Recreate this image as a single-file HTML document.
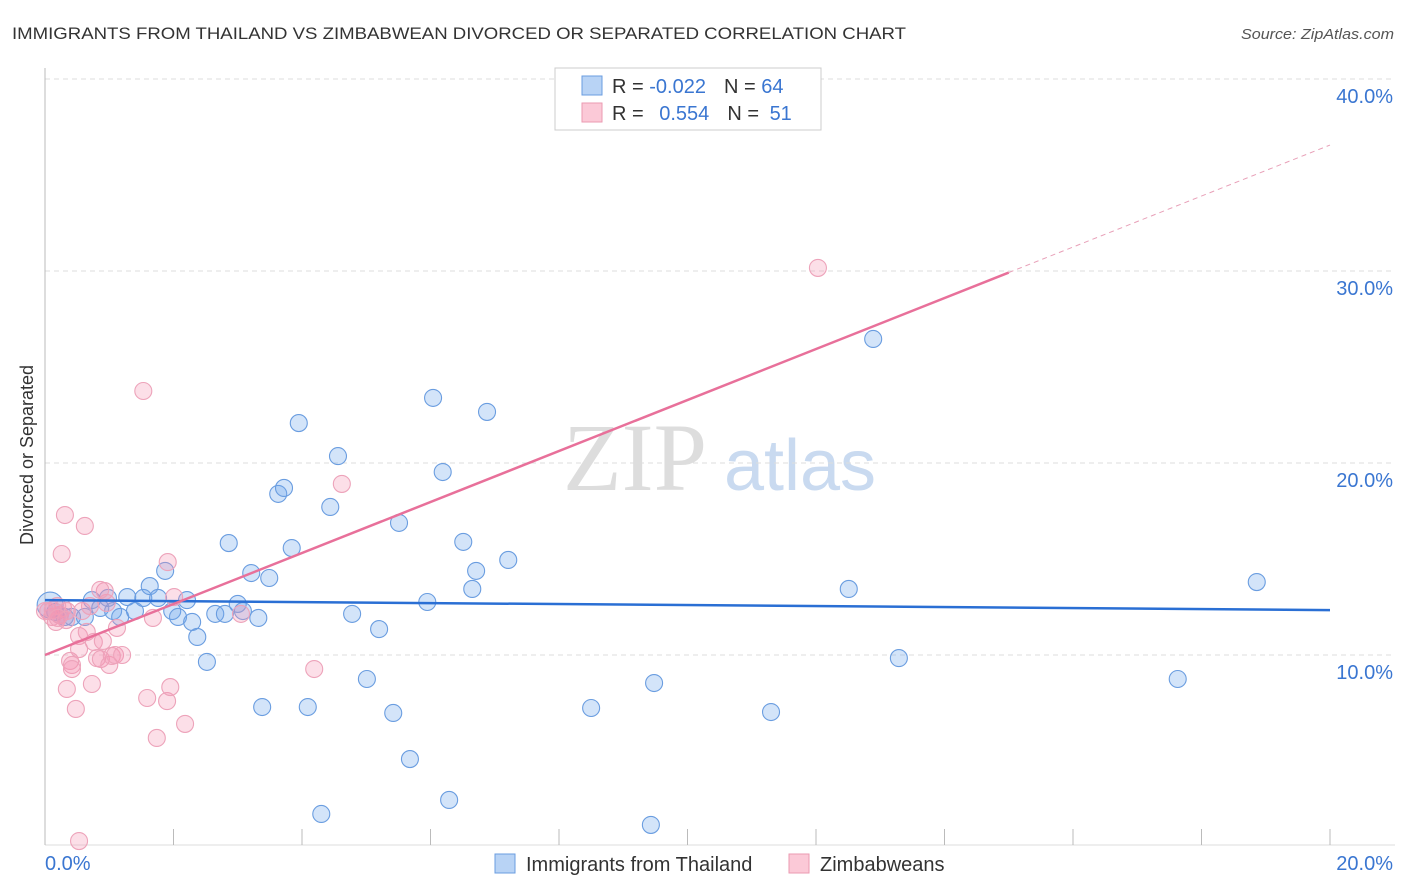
<!DOCTYPE html>
<html><head><meta charset="utf-8"><style>
body{margin:0;background:#fff;font-family:"Liberation Sans",sans-serif}
svg{display:block}
</style></head><body>
<svg id="chart" width="1406" height="892" viewBox="0 0 1406 892">
<text x="12" y="39" font-size="17" fill="#333" textLength="894" lengthAdjust="spacingAndGlyphs">IMMIGRANTS FROM THAILAND VS ZIMBABWEAN DIVORCED OR SEPARATED CORRELATION CHART</text>
<text x="1394" y="39" font-size="15" fill="#555" font-style="italic" text-anchor="end" textLength="153" lengthAdjust="spacingAndGlyphs">Source: ZipAtlas.com</text>
<text transform="translate(33,455) rotate(-90)" font-size="18" fill="#333" text-anchor="middle">Divorced or Separated</text>
<g>
<text x="635" y="490" font-size="96" font-family="Liberation Serif,serif" fill="#ddd" text-anchor="middle">ZIP</text>
<text x="800" y="490" font-size="72" fill="#c9daf0" text-anchor="middle">atlas</text>
</g>
<g id="grid"></g><g id="axes"></g><g id="pts"></g><g id="lines"></g>
<g>
<rect x="555" y="68" width="266" height="62" fill="#fff" stroke="#ccc"/>
<rect x="582" y="76" width="20" height="19" fill="#b8d3f5" stroke="#6a9de0"/>
<rect x="582" y="103" width="20" height="19" fill="#fbc9d7" stroke="#eb9ab2"/>
<text x="612" y="93" font-size="20" fill="#333">R = <tspan fill="#3a76d1">-0.022</tspan><tspan dx="18">N = </tspan><tspan fill="#3a76d1">64</tspan></text>
<text x="612" y="120" font-size="20" fill="#333">R = <tspan fill="#3a76d1" dx="10">0.554</tspan><tspan dx="18">N = </tspan><tspan fill="#3a76d1" dx="5">51</tspan></text>
</g>
<g>
<rect x="495" y="854" width="20" height="19" fill="#b8d3f5" stroke="#6a9de0"/>
<text x="526" y="871" font-size="20" fill="#333">Immigrants from Thailand</text>
<rect x="789" y="854" width="20" height="19" fill="#fbc9d7" stroke="#eb9ab2"/>
<text x="820" y="871" font-size="20" fill="#333">Zimbabweans</text>
</g>
</svg>
<script>
const blueX=[0.08,0.16,0.23,0.31,0.42,0.62,0.73,0.86,0.98,1.06,1.17,1.28,1.40,1.53,1.63,1.76,1.87,1.98,2.07,2.21,2.29,2.37,2.52,2.65,2.80,2.86,3.00,3.08,3.21,3.32,3.38,3.49,3.63,3.72,3.84,3.95,4.09,4.30,4.44,4.56,4.78,5.01,5.20,5.42,5.51,5.68,5.95,6.04,6.19,6.29,6.51,6.65,6.71,6.88,7.21,8.50,9.43,9.48,11.30,12.51,12.89,13.29,17.63,18.86];
const blueY=[12.60,12.24,12.08,11.98,11.98,11.98,12.86,12.45,12.97,12.29,11.98,13.02,12.29,12.97,13.59,12.97,14.38,12.29,11.98,12.86,11.72,10.94,9.64,12.14,12.14,15.83,12.66,12.29,14.27,11.93,7.29,14.01,18.39,18.70,15.57,22.08,7.29,1.72,17.71,20.36,12.14,8.75,11.35,6.98,16.88,4.58,12.76,23.39,19.53,2.45,15.89,13.44,14.38,22.66,14.95,7.24,1.15,8.54,7.03,13.44,26.46,9.84,8.75,13.80];
const pinkX=[0.05,0.11,0.17,0.23,0.28,0.31,0.34,0.39,0.42,0.26,0.34,0.42,0.48,0.53,0.58,0.53,0.62,0.65,0.70,0.73,0.76,0.81,0.87,0.90,0.93,0.96,1.00,1.04,1.09,1.12,1.20,1.53,1.59,1.68,1.74,1.90,1.91,1.95,2.01,2.18,3.05,4.19,4.62,12.03,0.53,0.00,0.19,0.86,0.12,0.33,0.20];
const pinkY=[12.29,11.98,11.72,12.08,12.45,17.29,12.29,9.69,9.48,15.26,8.23,9.27,7.19,10.99,12.29,10.31,16.72,11.20,12.55,8.49,10.68,9.84,9.79,10.73,13.33,12.71,9.48,9.95,10.00,11.41,10.00,23.75,7.76,11.93,5.68,7.60,14.84,8.33,13.02,6.41,12.14,9.27,18.91,30.16,0.31,12.29,12.55,13.39,12.34,11.82,11.93];
const blueTrend=[12.86,12.34];
const pinkTrend=[10.0,1.328];
const yTicks=[10,20,30,40];
const xTickLabels=["0.0%","20.0%"];
const NS="http://www.w3.org/2000/svg";
const X=v=>45+v*64.25, Y=v=>847-v*19.2;
function mk(p,tag,a){const e=document.createElementNS(NS,tag);for(const k in a)e.setAttribute(k,a[k]);p.appendChild(e);return e;}
const grid=document.getElementById('grid'),axes=document.getElementById('axes'),pts=document.getElementById('pts'),lines=document.getElementById('lines');
yTicks.forEach(t=>{
 const l=mk(grid,'line',{x1:45,x2:1395,y1:Y(t),y2:Y(t),stroke:'#ddd','stroke-dasharray':'5,4'});
 
 
 const tx=mk(axes,'text',{x:1393,y:Y(t)+24,'font-size':20,fill:'#3a76d1','text-anchor':'end'});
 tx.textContent=t.toFixed(1)+'%';
 
 
});
const ax=mk(axes,'line',{x1:45,x2:45,y1:68,y2:845,stroke:'#bbb'});


const bx=mk(axes,'line',{x1:45,x2:1395,y1:845,y2:845,stroke:'#ddd'});


for(let i=0;i<=10;i++){
 const tk=mk(axes,'line',{x1:X(i*2),x2:X(i*2),y1:829,y2:845,stroke:'#bbb'});
 
 
}
[[0,'start',45],[20,'end',1393]].forEach((d,i)=>{
 const t=mk(axes,'text',{x:d[2],y:870,'font-size':20,fill:'#3a76d1','text-anchor':d[1]});
 t.textContent=xTickLabels[i];
 
 
});
blueX.forEach((x,i)=>{
 const c=mk(pts,'circle',{cx:X(x),cy:Y(blueY[i]),r:i===0?13:8.5,fill:'rgba(110,165,235,0.3)',stroke:'#6a9de0','stroke-width':1.1});
 
 
});
pinkX.forEach((x,i)=>{
 const c=mk(pts,'circle',{cx:X(x),cy:Y(pinkY[i]),r:8.5,fill:'rgba(245,150,180,0.3)',stroke:'#eda3ba','stroke-width':1.1});
 
 
});
const bl=mk(lines,'line',{x1:X(0),y1:Y(blueTrend[0]),x2:X(20),y2:Y(blueTrend[1]),stroke:'#2a6fd4','stroke-width':2.5});


const pf=x=>pinkTrend[0]+pinkTrend[1]*x;
const pl=mk(lines,'line',{x1:X(0),y1:Y(pf(0)),x2:X(15),y2:Y(pf(15)),stroke:'#e8709a','stroke-width':2.5});


const pd=mk(lines,'line',{x1:X(15),y1:Y(pf(15)),x2:X(20),y2:Y(pf(20)),stroke:'#e8a0b8','stroke-width':1,'stroke-dasharray':'5,4'});


</script>
</body></html>
